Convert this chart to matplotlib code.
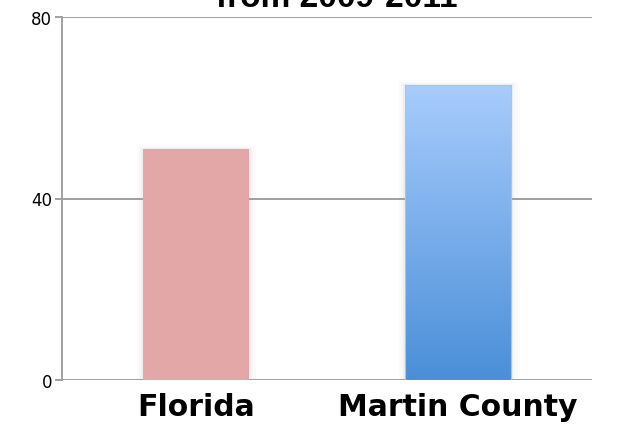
import numpy as np
import matplotlib
matplotlib.use("Agg")
import matplotlib.pyplot as plt
from matplotlib.patches import Rectangle

categories = ["Florida", "Martin County"]
values = [51, 65]
yticks = [0, 40, 80]
title = "from 2009-2011"

fig = plt.figure(figsize=(6.27, 4.35), dpi=100)
ax = fig.add_axes([62 / 627, 54 / 435, 530 / 627, 363 / 435])
x = np.arange(len(categories))
width = 0.405

# soft shadows
for xi, v in zip(x, values):
    for k, a in [(0.025, 0.03), (0.015, 0.05), (0.007, 0.07)]:
        ax.add_patch(Rectangle((xi - width / 2 - k, 0), width + 2 * k, v + k * 30,
                               color="#999999", alpha=a, lw=0, zorder=2))

# Florida: flat pink
ax.bar(x[0], values[0], width=width, color="#e2a7a6", zorder=3)

# Martin County: vertical blue gradient
bar = ax.bar(x[1], values[1], width=width, color="none", edgecolor="#8fd0e8",
             lw=0.8, zorder=4)[0]
grad = np.linspace(0, 1, 256).reshape(-1, 1)
cmap = matplotlib.colors.LinearSegmentedColormap.from_list("b", ["#4a8fd8", "#a8ccfc"])
im = ax.imshow(grad, cmap=cmap, origin="lower", aspect="auto", zorder=3,
               extent=(x[1] - width / 2, x[1] + width / 2, 0, values[1]))
im.set_clip_path(bar)
ax.set_xlim(-0.512, 1.511)
ax.set_ylim(0, 80)

for t in yticks:
    ax.axhline(t, color="#a0a0a0", lw=1.4, zorder=1)

for s in ["top", "right", "bottom"]:
    ax.spines[s].set_visible(False)
ax.spines["left"].set_color("#a0a0a0")
ax.spines["left"].set_linewidth(1.4)

ax.set_yticks(yticks)
ax.set_yticklabels([str(t) for t in yticks], fontsize=12,
                   family=["Liberation Sans Narrow", "DejaVu Sans"])
ax.tick_params(axis="y", length=5, color="#a0a0a0", width=1.4, pad=2)
ax.set_xticks(x)
ax.set_xticklabels(categories, fontsize=21.5, fontweight="bold", family="DejaVu Sans")
ax.tick_params(axis="x", length=0, pad=9)

fig.text(337 / 627, 1 - 7 / 435, title, ha="center", va="baseline",
         fontsize=24, fontweight="bold", family="Liberation Sans")

fig.savefig("out.png", dpi=100)
